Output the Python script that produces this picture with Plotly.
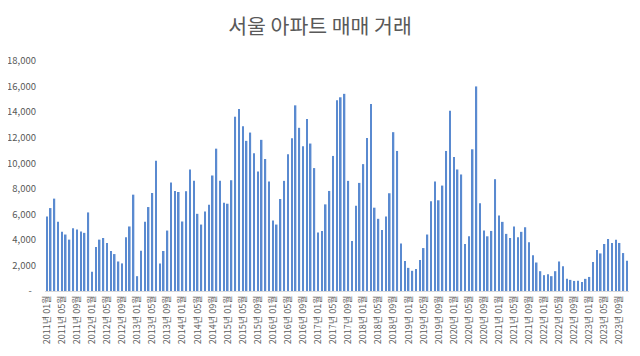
import plotly.graph_objects as go

years = list(range(2011, 2024))
v2011 = [5830, 6490, 7230, 5410, 4630, 4420, 4020, 4910, 4810, 4650, 4550, 6150]
v2012 = [1500, 3440, 4020, 4150, 3760, 3130, 2890, 2310, 2160, 4200, 5050, 7540]
v2013 = [1160, 3150, 5410, 6570, 7670, 10200, 2160, 3130, 4730, 8490, 7830, 7750]
v2014 = [5440, 7810, 9510, 8620, 6040, 5200, 6230, 6750, 9040, 11140, 8620, 6910]
v2015 = [6830, 8670, 13640, 14240, 12900, 11750, 12400, 10780, 9360, 11830, 10330, 8570]
v2016 = [5520, 5200, 7200, 8620, 10700, 11960, 14530, 12770, 11330, 13460, 11540, 9620]
v2017 = [4570, 4700, 6780, 7830, 10570, 14930, 15160, 15430, 8620, 3920, 6680, 8460]
v2018 = [9930, 11980, 14640, 6520, 5650, 4780, 5830, 7650, 12430, 10960, 3710, 2340]
v2019 = [1810, 1580, 1730, 2420, 3360, 4420, 7020, 8570, 7100, 8250, 10960, 14110]
v2020 = [10490, 9510, 9120, 3680, 4280, 11090, 16010, 6860, 4730, 4280, 4700, 8750]
v2021 = [5910, 5410, 4470, 4150, 5050, 4200, 4630, 4990, 3810, 2790, 2230, 1550]
v2022 = [1240, 1310, 1160, 1550, 2310, 1940, 950, 870, 790, 810, 710, 950]
v2023 = [1100, 2260, 3210, 2940, 3680, 4070, 3760, 4020, 3760, 2970, 2370]

yearly = [v2011, v2012, v2013, v2014, v2015, v2016, v2017, v2018, v2019,
          v2020, v2021, v2022, v2023]

categories = []
values = []
for y, vals in zip(years, yearly):
    for m, v in enumerate(vals, start=1):
        categories.append(f"{y}년 {m:02d}월")
        values.append(v)

tick_cats = categories[::4]
y_tickvals = [0, 2000, 4000, 6000, 8000, 10000, 12000, 14000, 16000, 18000]
y_ticktext = ["-  ", "2,000", "4,000", "6,000", "8,000", "10,000", "12,000",
              "14,000", "16,000", "18,000"]

font_family = "Noto Sans CJK KR, Noto Sans, sans-serif"
grey = "#595959"

fig = go.Figure(go.Bar(
    x=categories, y=values,
    marker=dict(color="#5a8ad0", line=dict(width=0)),
))

# page body has an 8px default margin, so the figure is sized 632x348
fig.update_layout(
    width=632, height=348,
    margin=dict(l=37, r=11, t=53, b=65, autoexpand=False),
    paper_bgcolor="white", plot_bgcolor="white",
    bargap=0.58,
    showlegend=False,
    title=dict(text="서울 아파트 매매 거래", x=0.4937, xanchor="center",
               xref="container",
               y=0.945, yanchor="middle",
               font=dict(family=font_family, size=20.5, color=grey)),
    font=dict(family=font_family, color=grey),
)

fig.update_xaxes(
    type="category", automargin=False,
    tickmode="array", tickvals=tick_cats, ticktext=tick_cats,
    tickangle=-90,
    tickfont=dict(family=font_family, size=9, color=grey),
    showline=True, linecolor="#d9d9d9", linewidth=1,
    showgrid=False, ticks="", zeroline=False,
)
fig.update_yaxes(
    range=[0, 18000], automargin=False,
    tickmode="array", tickvals=y_tickvals, ticktext=y_ticktext,
    tickfont=dict(family=font_family, size=9.5, color=grey),
    showgrid=False, zeroline=False, showline=False, ticks="",
    ticklabelstandoff=8,
)

fig.write_html("out.html")
